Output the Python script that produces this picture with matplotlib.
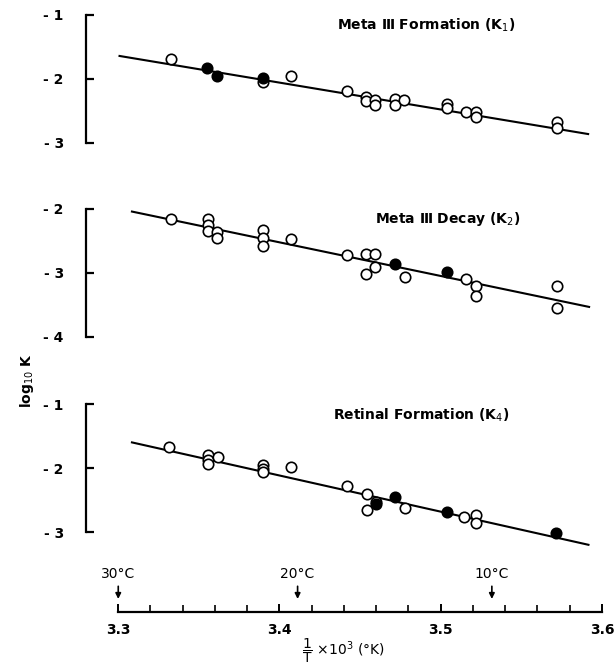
import numpy as np
import matplotlib.pyplot as plt

# Meta III Formation (K1)
p1_open_x = [3.333, 3.390, 3.407, 3.442, 3.4536, 3.4536, 3.4595, 3.4595, 3.4715, 3.4715,
             3.4773, 3.5038, 3.5038, 3.5157, 3.5218, 3.5218, 3.572, 3.572]
p1_open_y = [-1.69, -2.04, -1.95, -2.18, -2.28, -2.34, -2.33, -2.41, -2.32, -2.41,
             -2.33, -2.39, -2.46, -2.52, -2.51, -2.60, -2.67, -2.77]
p1_fill_x = [3.355, 3.361, 3.390]
p1_fill_y = [-1.83, -1.96, -1.99]
p1_fit_x = [3.3008, 3.5914]
p1_fit_y = [-1.64, -2.86]

# Meta III Decay (K2)
p2_open_x = [3.3329, 3.3554, 3.3554, 3.3554, 3.3612, 3.3612, 3.3897, 3.3897, 3.3897, 3.4073,
             3.4418, 3.4536, 3.4595, 3.4595, 3.4536, 3.4779, 3.5157, 3.5218, 3.5218, 3.572, 3.572]
p2_open_y = [-2.16, -2.15, -2.25, -2.35, -2.36, -2.45, -2.33, -2.46, -2.58, -2.47,
             -2.72, -2.71, -2.71, -2.90, -3.02, -3.07, -3.10, -3.20, -3.36, -3.21, -3.54]
p2_fill_x = [3.4715, 3.5038]
p2_fill_y = [-2.86, -2.98]
p2_fit_x = [3.3085, 3.592]
p2_fit_y = [-2.04, -3.53]

# Retinal Formation (K4)
p3_open_x = [3.3316, 3.3554, 3.3554, 3.3554, 3.3616, 3.3897, 3.3897, 3.3897, 3.4073, 3.4418,
             3.4542, 3.4542, 3.46, 3.4779, 3.5145, 3.5218, 3.5218]
p3_open_y = [-1.67, -1.80, -1.875, -1.93, -1.83, -1.95, -2.02, -2.07, -1.99, -2.28,
             -2.41, -2.66, -2.53, -2.63, -2.77, -2.73, -2.86]
p3_fill_x = [3.46, 3.4715, 3.5038, 3.5715]
p3_fill_y = [-2.56, -2.45, -2.69, -3.02]
p3_fit_x = [3.3085, 3.5916]
p3_fit_y = [-1.60, -3.20]

titles = ["Meta Ⅲ Formation (K$_1$)", "Meta Ⅲ Decay (K$_2$)", "Retinal Formation (K$_4$)"]
ylims = [(-3, -1), (-4, -2), (-3, -1)]
temps_c = [30, 20, 10]

W, H = 615, 671
fig = plt.figure(figsize=(W / 100, H / 100), dpi=100)

def frac_box(top_px, bottom_px, left_px=86, right_px=602):
    return [left_px / W, 1 - bottom_px / H, (right_px - left_px) / W, (bottom_px - top_px) / H]

panels = [
    (frac_box(15, 143), p1_open_x, p1_open_y, p1_fill_x, p1_fill_y, p1_fit_x, p1_fit_y, (0.66, 0.92)),
    (frac_box(209, 337), p2_open_x, p2_open_y, p2_fill_x, p2_fill_y, p2_fit_x, p2_fit_y, (0.70, 0.92)),
    (frac_box(404, 532), p3_open_x, p3_open_y, p3_fill_x, p3_fill_y, p3_fit_x, p3_fit_y, (0.65, 0.91)),
]

for i, (box, ox, oy, fx, fy, lx, ly, tpos) in enumerate(panels):
    ax = fig.add_axes(box)
    ax.plot(lx, ly, color='black', lw=1.5, clip_on=False, zorder=2)
    ax.plot(ox, oy, 'o', ms=7.5, mfc='white', mec='black', mew=1.2, clip_on=False, zorder=3)
    ax.plot(fx, fy, 'o', ms=7.5, mfc='black', mec='black', mew=1.2, clip_on=False, zorder=4)
    ax.set_xlim(3.28, 3.6)
    ax.set_ylim(*ylims[i])
    for s in ['top', 'right', 'bottom']:
        ax.spines[s].set_visible(False)
    ax.spines['left'].set_linewidth(1.6)
    yt = np.arange(ylims[i][0], ylims[i][1] + 1)
    ax.set_yticks(yt)
    ax.set_yticklabels(["- %d" % abs(v) for v in yt], fontsize=10, fontweight='bold')
    ax.tick_params(axis='y', direction='in', length=6, width=1.6, pad=16)
    ax.set_xticks([])
    ax.text(tpos[0], tpos[1], titles[i], transform=ax.transAxes, ha='center', va='center',
            fontsize=10, fontweight='bold')

# shared temperature axis
axx = fig.add_axes(frac_box(555, 612))
axx.set_xlim(3.28, 3.6)
axx.set_ylim(0, 1)
for s in ['top', 'right', 'left']:
    axx.spines[s].set_visible(False)
axx.spines['bottom'].set_linewidth(1.6)
axx.spines['bottom'].set_bounds(3.3, 3.6)
axx.set_yticks([])
axx.set_xticks(np.arange(3.3, 3.61, 0.1))
axx.set_xticklabels(["3.3", "3.4", "3.5", "3.6"], fontsize=10, fontweight='bold')
axx.set_xticks(np.arange(3.3, 3.601, 0.02), minor=True)
axx.tick_params(axis='x', which='major', direction='in', length=6, width=1.4, pad=8)
axx.tick_params(axis='x', which='minor', direction='in', length=5, width=1.2)
axx.set_xlabel(r"$\dfrac{1}{\mathrm{T}}$ $\times$10$^3$ (°K)", fontsize=10, labelpad=0)

for t in temps_c:
    xv = 1000.0 / (t + 273.15)
    xv = max(xv, 3.3)
    axx.annotate("", xy=(xv, 0.18), xytext=(xv, 0.5),
                 arrowprops=dict(arrowstyle='-|>', color='black', lw=1.2, mutation_scale=8))
    axx.text(xv, 0.55, "%d°C" % t, ha='center', va='bottom', fontsize=10)

fig.text(27 / W, 1 - 380 / H, r"log$_{10}$ K", rotation=90, ha='center', va='center',
         fontsize=10, fontweight='bold')

fig.savefig("out.png", dpi=100)
